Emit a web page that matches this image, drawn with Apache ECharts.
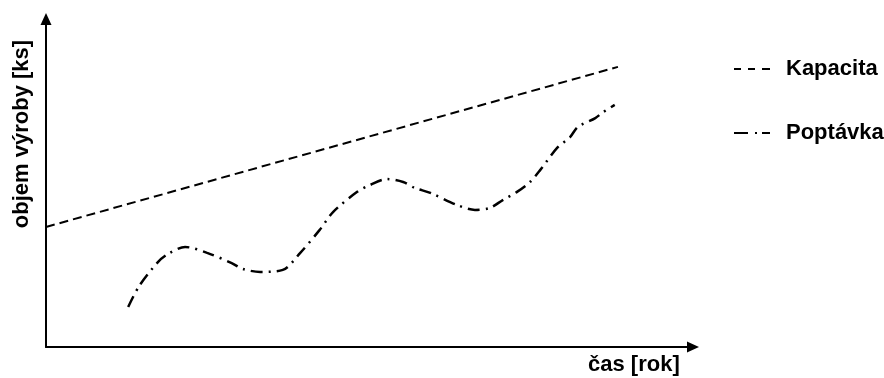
<!DOCTYPE html>
<html>
<head>
<meta charset="utf-8">
<script src="https://cdn.jsdelivr.net/npm/echarts@6/dist/echarts.min.js"></script>
<style>
html,body{margin:0;padding:0;background:#fff;}
#chart{width:884px;height:378px;}
</style>
</head>
<body>
<div id="chart"></div>
<script>
// Data (abstract units, axes have no ticks)
var seriesNames = ['Kapacita', 'Poptávka'];
var xAxisTitle = 'čas [rok]';
var yAxisTitle = 'objem výroby [ks]';
var kapacitaX = [0, 88.4];
var kapacitaY = [36.6, 85.4];
var poptavkaX = [12.7, 14.4, 17.3, 18.9, 21.5, 24.9, 28.7, 30.4, 33.1, 36.6, 39.3, 42.3, 44.4, 48.1, 50.1, 52.7, 55.2, 57.0, 59.4, 63.5, 66.3, 68.6, 70.6, 72.8, 74.8, 76.4, 79.0, 81.0, 82.2, 84.9, 86.1, 87.9];
var poptavkaY = [12.2, 18.6, 25.9, 28.4, 30.5, 28.7, 25.6, 23.8, 22.9, 23.5, 28.7, 35.7, 41.2, 47.3, 49.4, 51.2, 50.3, 48.5, 47.0, 43.3, 41.8, 42.4, 44.8, 47.3, 50.3, 54.0, 60.7, 64.0, 67.1, 69.8, 71.6, 73.8];

function zip(a, b) { return a.map(function (v, i) { return [v, b[i]]; }); }

var chart = echarts.init(document.getElementById('chart'), null, {renderer: 'canvas'});
var font = '"Liberation Sans", Arial, sans-serif';
function axis() {
  return {
    type: 'value', min: 0, max: 100,
    axisLine: {show: true, lineStyle: {color: '#000', width: 2}, symbol: ['none', 'triangle'], symbolSize: [11, 12], symbolOffset: [0, 0]},
    axisTick: {show: false}, axisLabel: {show: false}, splitLine: {show: false}
  };
}
var legendIcons = [
  'path://M0,0h7v2h-7zM14,0h7v2h-7zM28,0h8v2h-8z',
  'path://M0,0h14v2h-14zM21,0h2v2h-2zM28,0h8v2h-8z'
];
chart.setOption({
  animation: false,
  backgroundColor: '#fff',
  grid: {left: 46, right: 191, top: 19, bottom: 31},
  xAxis: axis(),
  yAxis: axis(),
  legend: {
    orient: 'vertical', left: 729, top: 53, itemGap: 42, itemWidth: 36, itemHeight: 2.5,
    textStyle: {fontFamily: font, fontWeight: 'bold', fontSize: 22, color: '#000', padding: [0, 0, 0, 11]},
    itemStyle: {color: '#000'},
    data: seriesNames.map(function (n, i) { return {name: n, icon: legendIcons[i]}; })
  },
  graphic: [
    {type: 'text', left: 588, top: 354, style: {text: xAxisTitle, font: 'bold 22px ' + font, fill: '#000'}},
    {type: 'text', x: 22, y: 134, rotation: Math.PI / 2, style: {text: yAxisTitle, font: 'bold 22px ' + font, fill: '#000', align: 'center', verticalAlign: 'middle'}}
  ],
  series: [
    {name: seriesNames[0], type: 'line', symbol: 'none', data: zip(kapacitaX, kapacitaY),
     lineStyle: {color: '#000', width: 2, type: [9, 5]}, itemStyle: {color: '#000'}},
    {name: seriesNames[1], type: 'line', symbol: 'none', smooth: 0.3, data: zip(poptavkaX, poptavkaY),
     lineStyle: {color: '#000', width: 2.5, type: [12, 6, 2, 6]}, itemStyle: {color: '#000'}}
  ]
});
</script>
</body>
</html>
